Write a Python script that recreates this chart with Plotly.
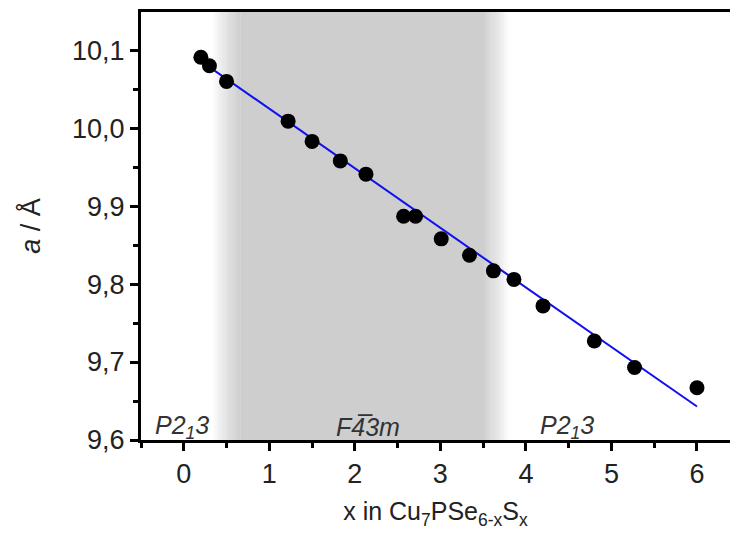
import plotly.graph_objects as go

# composition x and lattice parameter a (Å)
x_vals = [0.2, 0.3, 0.5, 1.22, 1.5, 1.83, 2.13, 2.57, 2.71, 3.01, 3.34, 3.62, 3.86, 4.2, 4.8, 5.27, 6.0]
a_vals = [10.091, 10.080, 10.060, 10.009, 9.983, 9.958, 9.941, 9.887, 9.887, 9.858, 9.837, 9.817, 9.806, 9.772, 9.727, 9.693, 9.667]

# linear fit line (end points)
fit_x = [0.2, 6.0]
fit_y = [10.086, 9.643]

# phase region F-43m (shaded), with soft edges
phase_fade_in = [0.34, 0.66]
phase_fade_out = [3.50, 3.80]

y_tickvals = [9.6, 9.7, 9.8, 9.9, 10.0, 10.1]
y_ticktext = ["9,6", "9,7", "9,8", "9,9", "10,0", "10,1"]
x_tickvals = [0, 1, 2, 3, 4, 5, 6]
x_ticktext = ["0", "1", "2", "3", "4", "5", "6"]

phase_labels = ["<i>P2<sub>1</sub>3</i>", "<i>F4\u03053m</i>", "<i>P2<sub>1</sub>3</i>"]
phase_label_x = [-0.02, 2.15, 4.48]
phase_label_y = 9.617

FONT = "Liberation Sans, Arial, sans-serif"
core = (206, 206, 206)

fig = go.Figure()

shapes = []
shapes.append(dict(type="rect", xref="x", yref="paper", x0=phase_fade_in[1], x1=phase_fade_out[0],
                   y0=0, y1=1, fillcolor="rgb(%d,%d,%d)" % core, line=dict(width=0), layer="below"))


def mix(f):
    return "rgb(%d,%d,%d)" % tuple(int(round(255 + (c - 255) * f)) for c in core)


N = 12
for i in range(N):
    t = (i + 0.5) / N
    w_in = (phase_fade_in[1] - phase_fade_in[0]) / N
    shapes.append(dict(type="rect", xref="x", yref="paper",
                       x0=phase_fade_in[0] + i * w_in, x1=phase_fade_in[0] + (i + 1) * w_in + 0.003,
                       y0=0, y1=1, fillcolor=mix(t ** 0.8), line=dict(width=0), layer="below"))
    w_out = (phase_fade_out[1] - phase_fade_out[0]) / N
    shapes.append(dict(type="rect", xref="x", yref="paper",
                       x0=phase_fade_out[0] + i * w_out - 0.003, x1=phase_fade_out[0] + (i + 1) * w_out,
                       y0=0, y1=1, fillcolor=mix((1 - t) ** 0.8), line=dict(width=0), layer="below"))

fig.add_trace(go.Scatter(x=fit_x, y=fit_y, mode="lines",
                         line=dict(color="#1010ee", width=2), hoverinfo="skip", showlegend=False))
fig.add_trace(go.Scatter(x=x_vals, y=a_vals, mode="markers",
                         marker=dict(color="black", size=15), showlegend=False))

annotations = []
for txt, xx in zip(phase_labels, phase_label_x):
    annotations.append(dict(x=xx, y=phase_label_y, xref="x", yref="y", text=txt, showarrow=False,
                            font=dict(family=FONT, size=25, color="#333333"), xanchor="center", yanchor="middle"))

fig.update_layout(
    width=730, height=541,
    margin=dict(l=141, r=0, t=12, b=101),
    paper_bgcolor="white", plot_bgcolor="white",
    shapes=shapes, annotations=annotations,
    font=dict(family=FONT, color="#222222"),
    showlegend=False,
)
fig.update_xaxes(
    range=[-0.5, 6.386], tickvals=x_tickvals, ticktext=x_ticktext,
    showline=True, linewidth=3, linecolor="black", mirror=True,
    ticks="outside", ticklen=8, tickwidth=3, tickcolor="black",
    minor=dict(dtick=0.5, ticks="outside", ticklen=5, tickwidth=3, tickcolor="black", showgrid=False),
    showgrid=False, zeroline=False,
    tickfont=dict(family=FONT, size=27, color="#222222"),
    title=dict(text="x in Cu<sub>7</sub>PSe<sub>6-x</sub>S<sub>x</sub>", font=dict(family=FONT, size=25, color="#222222"), standoff=15),
)
fig.update_yaxes(
    range=[9.6, 10.149], tickvals=y_tickvals, ticktext=y_ticktext,
    showline=True, linewidth=3, linecolor="black", mirror=False,
    ticks="outside", ticklen=8, tickwidth=3, tickcolor="black",
    minor=dict(dtick=0.05, tick0=9.6, ticks="outside", ticklen=5, tickwidth=3, tickcolor="black", showgrid=False),
    showgrid=False, zeroline=False,
    tickfont=dict(family=FONT, size=27, color="#222222"),
    title=dict(text="<i>a</i> / Å", font=dict(family=FONT, size=27, color="#222222"), standoff=24),
)

fig.write_html("out.html")
